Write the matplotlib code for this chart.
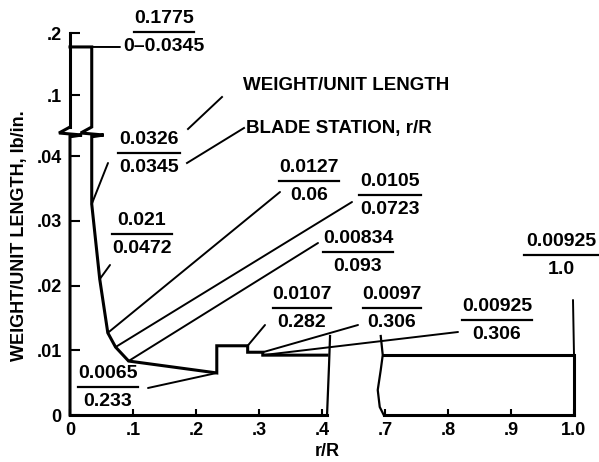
"""Blade weight distribution: weight per unit length vs blade station r/R."""

import numpy as np
import matplotlib
matplotlib.use("Agg")
import matplotlib.pyplot as plt

plt.rcParams["font.family"] = ["Liberation Sans", "DejaVu Sans"]
plt.rcParams["font.weight"] = "bold"

# profile (station r/R, weight lb/in.)
STATION = [0.0, 0.0345, 0.0345, 0.0472, 0.06, 0.0723, 0.093, 0.233, 0.233,
           0.282, 0.282, 0.306, 0.306, 1.0]
WEIGHT = [0.1775, 0.1775, 0.0326, 0.021, 0.0127, 0.0105, 0.00834, 0.0065, 0.0107,
          0.0107, 0.0097, 0.0097, 0.00925, 0.00925]

# callouts: weight over station, and the profile point each leader touches
CALLOUT_NUM = ["0.1775", "0.0326", "0.021", "0.0127", "0.0105", "0.00834",
               "0.0065", "0.0107", "0.0097", "0.00925", "0.00925"]
CALLOUT_DEN = ["0\u20130.0345", "0.0345", "0.0472", "0.06", "0.0723", "0.093",
               "0.233", "0.282", "0.306", "0.306", "1.0"]
CALLOUT_X = [0.0345, 0.0345, 0.0472, 0.06, 0.0723, 0.093, 0.233, 0.282, 0.306, 0.306, 1.0]
CALLOUT_Y = [0.1775, 0.0326, 0.021, 0.0127, 0.0105, 0.00834, 0.0065, 0.0107,
             0.0097, 0.00925, 0.00925]

X_TICKS = [0, 0.1, 0.2, 0.3, 0.4, 0.7, 0.8, 0.9, 1.0]
X_TICKLABELS = ["0", ".1", ".2", ".3", ".4", ".7", ".8", ".9", "1.0"]
Y_TICKS = [0, 0.01, 0.02, 0.03, 0.04, 0.1, 0.2]
Y_TICKLABELS = ["0", ".01", ".02", ".03", ".04", ".1", ".2"]

# layout in figure pixels: bar centre x, bar y, bar half width, leader end x, y
CALLOUT_BOX = [
    (164, 32, 30, 120, 47),
    (149, 153, 31, 108, 163),
    (142, 234, 30, 110, 265),
    (309, 181, 30, 280, 192),
    (390, 195, 31, 352, 202),
    (358, 252, 35, 318, 243),
    (108, 387, 30, 148, 388),
    (302, 308, 29, 265, 325),
    (392, 308, 29, 358, 325),
    (497, 320, 35, 458, 332),
    (561, 255, 37, 573, 300),
]

W, H = 599, 462
LW = 2.2

# broken axes: piecewise scales
Y_SPLIT, Y_SQUEEZE = 0.0441, 0.09583
Y_BREAK_LO, Y_BREAK_HI = 0.0430, 0.0484
X_BREAK_LO, X_BREAK_HI = 0.424, 0.694


def fy(v):
    v = np.asarray(v, float)
    return np.where(v <= Y_SPLIT, v, Y_SPLIT + (v - Y_SPLIT) * Y_SQUEEZE)


def fy_inv(u):
    u = np.asarray(u, float)
    return np.where(u <= Y_SPLIT, u, Y_SPLIT + (u - Y_SPLIT) / Y_SQUEEZE)


def fx(x):
    x = np.asarray(x, float)
    return np.where(x <= 0.4, x, np.where(x < 0.7, 0.4 + (x - 0.4) / 3, x - 0.2))


def fx_inv(u):
    u = np.asarray(u, float)
    return np.where(u <= 0.4, u, np.where(u < 0.5, 0.4 + 3 * (u - 0.4), u + 0.2))


def fp(px, py):
    return px / W, 1 - py / H


def offset_path(ax, anchor, offsets):
    # offsets in image pixels (y down) from a data point -> data coords
    base = ax.transData.transform(anchor)
    pts = base + np.asarray(offsets, float) * [1, -1]
    return ax.transData.inverted().transform(pts)


fig = plt.figure(figsize=(W / 100, H / 100), dpi=100)
ax = fig.add_axes([70 / W, (H - 415) / H, 504 / W, 382 / H])
ax.set_xscale("function", functions=(fx, fx_inv))
ax.set_yscale("function", functions=(fy, fy_inv))
ax.set_xlim(0, 1.0)
ax.set_ylim(0, 0.2)
for s in ax.spines.values():
    s.set_visible(False)

ax.set_xticks(X_TICKS)
ax.set_xticklabels(X_TICKLABELS, fontsize=13, fontweight="bold")
ax.set_yticks(Y_TICKS)
ax.set_yticklabels(Y_TICKLABELS, fontsize=13, fontweight="bold")
ax.tick_params(axis="x", direction="in", length=4.5, width=1.5, pad=5)
ax.tick_params(axis="y", direction="in", length=7, width=1.5, pad=6)
ax.minorticks_off()

line_kw = dict(color="black", lw=LW, clip_on=False, solid_joinstyle="miter")
zig = [(0, 0), (-11, 6), (12, 8)]

# axes drawn by hand so the breaks show
ya = offset_path(ax, (0, Y_BREAK_HI), zig)
ax.plot([0, 0], [0.2, Y_BREAK_HI], **line_kw)
ax.plot(list(ya[:, 0]) + [0, 0], list(ya[:, 1]) + [Y_BREAK_LO, 0], **line_kw)
ax.plot([0, X_BREAK_LO], [0, 0], **line_kw)
ax.plot([X_BREAK_HI, 1.0], [0, 0], **line_kw)

wl = offset_path(ax, (X_BREAK_LO, 0), [(0, 0), (1, -25), (2, -50), (3, -79)])
wr = offset_path(ax, (X_BREAK_HI, 0),
                 [(0, 0), (-4, -8), (-6, -25), (-3, -45), (-1, -60), (-3, -79)])
ax.plot(wl[:, 0], wl[:, 1], color="black", lw=1.6, clip_on=False)
ax.plot(wr[:, 0], wr[:, 1], color="black", lw=1.6, clip_on=False)

# profile
sx, wy = STATION, WEIGHT
pz = offset_path(ax, (sx[1], Y_BREAK_HI), zig)
px_ = [sx[0], sx[1]] + list(pz[:, 0]) + [sx[2]] + list(sx[2:-1]) + [X_BREAK_LO]
py_ = [wy[0], wy[1]] + list(pz[:, 1]) + [Y_BREAK_LO] + list(wy[2:-1]) + [wy[-1]]
ax.plot(px_, py_, **line_kw)
ax.plot([X_BREAK_HI, sx[-1], sx[-1]], [wy[-1], wy[-1], 0], **line_kw)

# callouts
for num, den, x, y, (cx, by, hw, lx, ly) in zip(CALLOUT_NUM, CALLOUT_DEN, CALLOUT_X,
                                                 CALLOUT_Y, CALLOUT_BOX):
    fig.text(*fp(cx, by - 13.5), num, fontsize=14, ha="center", va="center")
    fig.text(*fp(cx, by + 14.5), den, fontsize=14, ha="center", va="center")
    fig.add_artist(plt.Line2D([(cx - hw) / W, (cx + hw) / W], [1 - by / H] * 2,
                              transform=fig.transFigure, color="black", lw=1.6))
    ax.annotate("", xy=(x, y), xycoords="data", xytext=fp(lx, ly),
                textcoords="figure fraction",
                arrowprops=dict(arrowstyle="-", lw=1.4, color="black",
                                shrinkA=0, shrinkB=0))

# key to the callouts
fig.text(*fp(243, 86), "WEIGHT/UNIT LENGTH", fontsize=13.5, ha="left", va="center")
fig.text(*fp(246, 128), "BLADE STATION, r/R", fontsize=13.5, ha="left", va="center")
for (x0, y0), (x1, y1) in [((188, 129), (222, 97)), ((187, 163), (244, 128))]:
    fig.add_artist(plt.Line2D([x0 / W, x1 / W], [1 - y0 / H, 1 - y1 / H],
                              transform=fig.transFigure, color="black", lw=1.4))

fig.text(*fp(20, 236), "WEIGHT/UNIT LENGTH, lb/in.", fontsize=13, rotation=90,
         ha="center", va="center")
fig.text(*fp(327, 451), "r/R", fontsize=13, ha="center", va="center")

fig.savefig("out.png", dpi=100)
